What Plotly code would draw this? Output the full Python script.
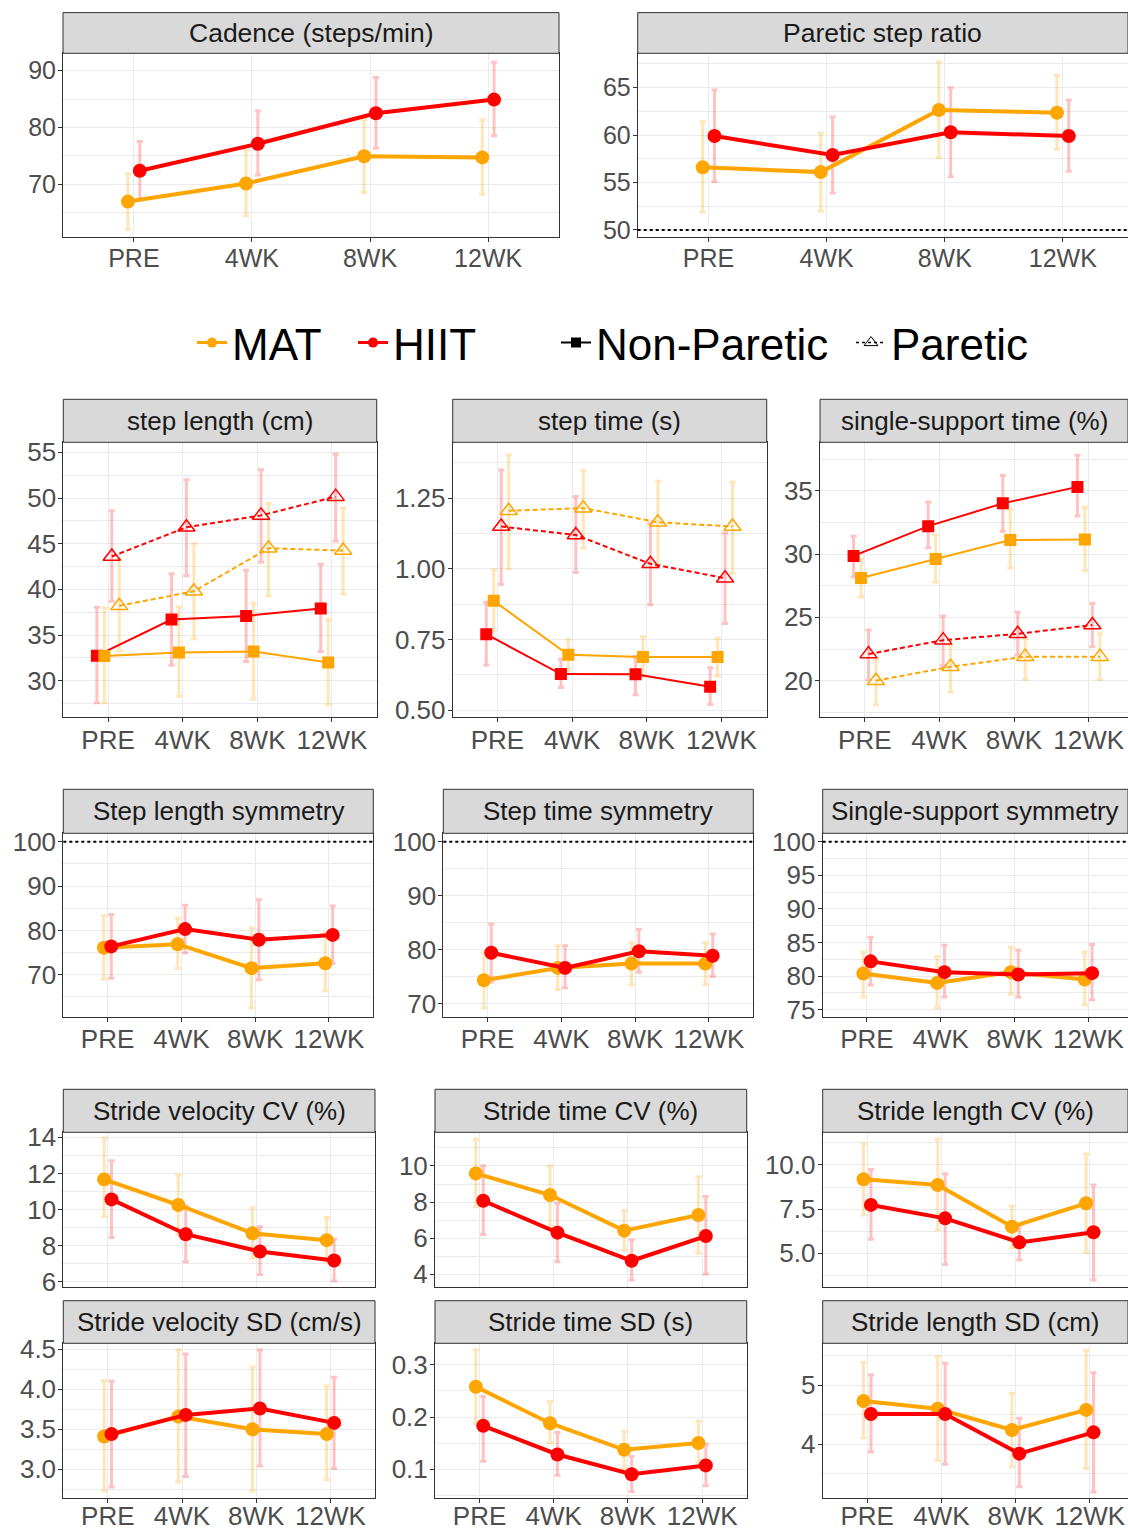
import plotly.graph_objects as go

# ---------------- data ----------------
TIMES = ["PRE", "4WK", "8WK", "12WK"]

CAD_MAT = [66.9, 70.1, 74.9, 74.7]
CAD_MAT_LO = [62.0, 64.4, 68.5, 68.2]
CAD_MAT_HI = [71.8, 76.0, 81.4, 81.3]
CAD_HIIT = [72.35, 77.1, 82.5, 84.9]
CAD_HIIT_LO = [67.2, 71.6, 76.3, 78.5]
CAD_HIIT_HI = [77.5, 82.9, 88.8, 91.5]

PSR_MAT = [56.6, 56.1, 62.65, 62.35]
PSR_MAT_LO = [51.9, 52.0, 57.6, 58.5]
PSR_MAT_HI = [61.4, 60.2, 67.7, 66.3]
PSR_HIIT = [59.9, 57.9, 60.3, 59.9]
PSR_HIIT_LO = [55.1, 53.9, 55.6, 56.2]
PSR_HIIT_HI = [64.75, 61.9, 65.0, 63.7]

SL_MAT_NP = [32.7, 33.1, 33.2, 32.0]
SL_MAT_NP_LO = [27.6, 28.3, 28.0, 27.4]
SL_MAT_NP_HI = [38.0, 38.1, 38.5, 36.7]
SL_HIIT_NP = [32.75, 36.7, 37.1, 37.9]
SL_HIIT_NP_LO = [27.6, 31.7, 32.1, 33.2]
SL_HIIT_NP_HI = [38.05, 41.7, 42.1, 42.75]
SL_MAT_P = [38.2, 39.8, 44.5, 44.25]
SL_MAT_P_LO = [33.3, 34.6, 39.3, 39.5]
SL_MAT_P_HI = [43.3, 45.0, 49.4, 48.9]
SL_HIIT_P = [43.6, 46.8, 48.1, 50.15]
SL_HIIT_P_LO = [38.7, 41.5, 43.0, 45.3]
SL_HIIT_P_HI = [48.6, 52.0, 53.1, 54.8]

ST_MAT_NP = [0.887, 0.696, 0.688, 0.688]
ST_MAT_NP_LO = [0.78, 0.64, 0.62, 0.62]
ST_MAT_NP_HI = [0.996, 0.749, 0.76, 0.755]
ST_HIIT_NP = [0.769, 0.628, 0.627, 0.583]
ST_HIIT_NP_LO = [0.66, 0.58, 0.555, 0.52]
ST_HIIT_NP_HI = [0.882, 0.68, 0.69, 0.65]
ST_MAT_P = [1.206, 1.215, 1.165, 1.15]
ST_MAT_P_LO = [1.0, 1.073, 1.014, 0.985]
ST_MAT_P_HI = [1.403, 1.348, 1.31, 1.307]
ST_HIIT_P = [1.15, 1.12, 1.018, 0.967]
ST_HIIT_P_LO = [0.946, 0.987, 0.873, 0.807]
ST_HIIT_P_HI = [1.35, 1.256, 1.162, 1.127]

SS_MAT_NP = [28.1, 29.6, 31.1, 31.15]
SS_MAT_NP_LO = [26.6, 27.8, 28.9, 28.7]
SS_MAT_NP_HI = [29.6, 31.5, 33.5, 33.7]
SS_HIIT_NP = [29.85, 32.2, 34.0, 35.3]
SS_HIIT_NP_LO = [28.2, 30.5, 31.8, 33.0]
SS_HIIT_NP_HI = [31.4, 34.1, 36.2, 37.8]
SS_MAT_P = [20.0, 21.1, 21.9, 21.9]
SS_MAT_P_LO = [18.1, 19.1, 20.1, 20.1]
SS_MAT_P_HI = [21.7, 22.8, 23.3, 23.7]
SS_HIIT_P = [22.1, 23.2, 23.7, 24.4]
SS_HIIT_P_LO = [20.05, 21.2, 22.0, 22.7]
SS_HIIT_P_HI = [24.0, 25.1, 25.4, 26.1]

SLS_MAT = [76.1, 76.9, 71.5, 72.6]
SLS_MAT_LO = [69.0, 71.4, 62.5, 66.4]
SLS_MAT_HI = [83.3, 82.8, 80.6, 79.4]
SLS_HIIT = [76.4, 80.3, 77.9, 79.0]
SLS_HIIT_LO = [69.2, 74.9, 68.9, 72.6]
SLS_HIIT_HI = [83.6, 85.7, 86.9, 85.5]

STS_MAT = [74.3, 76.6, 77.4, 77.4]
STS_MAT_LO = [69.1, 72.6, 73.5, 73.5]
STS_MAT_HI = [79.5, 80.7, 81.3, 81.3]
STS_HIIT = [79.4, 76.6, 79.7, 78.85]
STS_HIIT_LO = [74.0, 72.9, 75.8, 75.0]
STS_HIIT_HI = [84.7, 80.7, 83.7, 82.9]

SSS_MAT = [80.4, 79.0, 80.6, 79.5]
SSS_MAT_LO = [76.9, 75.3, 77.3, 75.7]
SSS_MAT_HI = [83.6, 82.9, 84.3, 83.6]
SSS_HIIT = [82.2, 80.6, 80.25, 80.45]
SSS_HIIT_LO = [78.7, 76.9, 76.9, 76.5]
SSS_HIIT_HI = [85.8, 84.6, 83.85, 84.7]

SVCV_MAT = [11.67, 10.25, 8.68, 8.3]
SVCV_MAT_LO = [9.6, 8.6, 7.3, 7.1]
SVCV_MAT_HI = [13.95, 11.9, 10.1, 9.55]
SVCV_HIIT = [10.56, 8.63, 7.67, 7.17]
SVCV_HIIT_LO = [8.45, 7.1, 6.4, 6.05]
SVCV_HIIT_HI = [12.7, 10.2, 9.05, 8.35]

SVSD_MAT = [3.41, 3.66, 3.5, 3.44]
SVSD_MAT_LO = [2.73, 2.84, 2.73, 2.87]
SVSD_MAT_HI = [4.11, 4.49, 4.28, 4.04]
SVSD_HIIT = [3.44, 3.68, 3.76, 3.58]
SVSD_HIIT_LO = [2.78, 2.91, 3.04, 3.01]
SVSD_HIIT_HI = [4.1, 4.44, 4.49, 4.15]

STCV_MAT = [9.59, 8.39, 6.41, 7.28]
STCV_MAT_LO = [7.74, 6.6, 5.33, 5.15]
STCV_MAT_HI = [11.48, 10.0, 7.52, 9.4]
STCV_HIIT = [8.07, 6.3, 4.74, 6.11]
STCV_HIIT_LO = [6.2, 4.69, 3.67, 4.0]
STCV_HIIT_HI = [10.0, 7.93, 5.89, 8.3]

STSD_MAT = [0.258, 0.188, 0.137, 0.15]
STSD_MAT_LO = [0.188, 0.15, 0.102, 0.112]
STSD_MAT_HI = [0.329, 0.23, 0.172, 0.192]
STSD_HIIT = [0.183, 0.128, 0.09, 0.107]
STSD_HIIT_LO = [0.115, 0.088, 0.057, 0.068]
STSD_HIIT_HI = [0.24, 0.17, 0.124, 0.147]

SLCV_MAT = [9.19, 8.87, 6.51, 7.83]
SLCV_MAT_LO = [7.17, 6.32, 5.3, 5.04]
SLCV_MAT_HI = [11.19, 11.45, 7.68, 10.62]
SLCV_HIIT = [7.74, 6.98, 5.62, 6.19]
SLCV_HIIT_LO = [5.79, 4.36, 4.62, 3.49]
SLCV_HIIT_HI = [9.75, 9.5, 6.6, 8.87]

SLSD_MAT = [4.73, 4.6, 4.24, 4.58]
SLSD_MAT_LO = [4.11, 3.73, 3.62, 3.59]
SLSD_MAT_HI = [5.38, 5.48, 4.86, 5.59]
SLSD_HIIT = [4.51, 4.51, 3.84, 4.2]
SLSD_HIIT_LO = [3.87, 3.66, 3.28, 3.19]
SLSD_HIIT_HI = [5.17, 5.37, 4.44, 5.21]

LEGEND_NAMES = ["MAT", "HIIT", "Non-Paretic", "Paretic"]

# ---------------- style / layout ----------------
W, H = 1128, 1531
FONT = "Liberation Sans"
ORANGE = "#FFA500"
RED = "#FF0000"
ERRC = {ORANGE: "rgba(255,165,0,0.28)", RED: "rgba(255,0,0,0.24)"}
GRID = "#EBEBEB"
BORDER = "#333333"

ROWS = {
    1: dict(strip=12.6, top=53.3, bottom=237.3, xstand=-5),
    2: dict(strip=399.3, top=442.3, bottom=717.3, xstand=-5),
    3: dict(strip=789.3, top=833.3, bottom=1016.5, xstand=-5),
    4: dict(strip=1089.3, top=1132.3, bottom=1286.7, xstand=-5),
    5: dict(strip=1300.7, top=1343.3, bottom=1498.3, xstand=-10),
}

G = "g"; NP = "np"; P = "p"

panels = [
    dict(title="Cadence (steps/min)", row=1, x0=63, x1=559, unit=118.1, yr=(60.6, 93.07),
         tick0=70, dtick=10, fmt="", ref=None, fs=25, sfs=26.5,
         series=[(CAD_MAT, CAD_MAT_LO, CAD_MAT_HI, ORANGE, G, -0.05),
                 (CAD_HIIT, CAD_HIIT_LO, CAD_HIIT_HI, RED, G, 0.05)]),
    dict(title="Paretic step ratio", row=1, x0=637.7, x1=W, unit=118.1, yr=(49.23, 68.62),
         tick0=50, dtick=5, fmt="", ref=50, fs=25, sfs=26.5,
         series=[(PSR_MAT, PSR_MAT_LO, PSR_MAT_HI, ORANGE, G, -0.05),
                 (PSR_HIIT, PSR_HIIT_LO, PSR_HIIT_HI, RED, G, 0.05)]),
    dict(title="step length (cm)", row=2, x0=63.3, x1=376.7, unit=74.62, yr=(26.0, 56.1),
         tick0=30, dtick=5, fmt="", ref=None, fs=26, sfs=26,
         series=[(SL_HIIT_NP, SL_HIIT_NP_LO, SL_HIIT_NP_HI, RED, NP, -0.15),
                 (SL_MAT_NP, SL_MAT_NP_LO, SL_MAT_NP_HI, ORANGE, NP, -0.05),
                 (SL_HIIT_P, SL_HIIT_P_LO, SL_HIIT_P_HI, RED, P, 0.05),
                 (SL_MAT_P, SL_MAT_P_LO, SL_MAT_P_HI, ORANGE, P, 0.15)]),
    dict(title="step time (s)", row=2, x0=452.7, x1=766.7, unit=74.62, yr=(0.475, 1.448),
         tick0=0.5, dtick=0.25, fmt=".2f", ref=None, fs=26, sfs=26,
         series=[(ST_HIIT_NP, ST_HIIT_NP_LO, ST_HIIT_NP_HI, RED, NP, -0.15),
                 (ST_MAT_NP, ST_MAT_NP_LO, ST_MAT_NP_HI, ORANGE, NP, -0.05),
                 (ST_HIIT_P, ST_HIIT_P_LO, ST_HIIT_P_HI, RED, P, 0.05),
                 (ST_MAT_P, ST_MAT_P_LO, ST_MAT_P_HI, ORANGE, P, 0.15)]),
    dict(title="single-support time (%)", row=2, x0=820, x1=W, unit=74.62, yr=(17.11, 38.82),
         tick0=20, dtick=5, fmt="", ref=None, fs=26, sfs=26,
         series=[(SS_HIIT_NP, SS_HIIT_NP_LO, SS_HIIT_NP_HI, RED, NP, -0.15),
                 (SS_MAT_NP, SS_MAT_NP_LO, SS_MAT_NP_HI, ORANGE, NP, -0.05),
                 (SS_HIIT_P, SS_HIIT_P_LO, SS_HIIT_P_HI, RED, P, 0.05),
                 (SS_MAT_P, SS_MAT_P_LO, SS_MAT_P_HI, ORANGE, P, 0.15)]),
    dict(title="Step length symmetry", row=3, x0=63.3, x1=373.3, unit=73.8, yr=(60.6, 101.9),
         tick0=70, dtick=10, fmt="", ref=100, fs=26, sfs=26,
         series=[(SLS_MAT, SLS_MAT_LO, SLS_MAT_HI, ORANGE, G, -0.05),
                 (SLS_HIIT, SLS_HIIT_LO, SLS_HIIT_HI, RED, G, 0.05)]),
    dict(title="Step time symmetry", row=3, x0=443.3, x1=753.3, unit=73.8, yr=(67.59, 101.56),
         tick0=70, dtick=10, fmt="", ref=100, fs=26, sfs=26,
         series=[(STS_MAT, STS_MAT_LO, STS_MAT_HI, ORANGE, G, -0.05),
                 (STS_HIIT, STS_HIIT_LO, STS_HIIT_HI, RED, G, 0.05)]),
    dict(title="Single-support symmetry", row=3, x0=822.7, x1=W, unit=73.8, yr=(74.0, 101.25),
         tick0=75, dtick=5, fmt="", ref=100, fs=26, sfs=26,
         series=[(SSS_MAT, SSS_MAT_LO, SSS_MAT_HI, ORANGE, G, -0.05),
                 (SSS_HIIT, SSS_HIIT_LO, SSS_HIIT_HI, RED, G, 0.05)]),
    dict(title="Stride velocity CV (%)", row=4, x0=63.3, x1=375, unit=74.2, yr=(5.72, 14.28),
         tick0=6, dtick=2, fmt="", ref=None, fs=26, sfs=26, notick=True,
         series=[(SVCV_MAT, SVCV_MAT_LO, SVCV_MAT_HI, ORANGE, G, -0.05),
                 (SVCV_HIIT, SVCV_HIIT_LO, SVCV_HIIT_HI, RED, G, 0.05)]),
    dict(title="Stride time CV (%)", row=4, x0=435, x1=746.7, unit=74.2, yr=(3.30, 11.87),
         tick0=4, dtick=2, fmt="", ref=None, fs=26, sfs=26, notick=True,
         series=[(STCV_MAT, STCV_MAT_LO, STCV_MAT_HI, ORANGE, G, -0.05),
                 (STCV_HIIT, STCV_HIIT_LO, STCV_HIIT_HI, RED, G, 0.05)]),
    dict(title="Stride length CV (%)", row=4, x0=822.7, x1=W, unit=74.2, yr=(3.11, 11.85),
         tick0=5, dtick=2.5, fmt=".1f", ref=None, fs=26, sfs=26, notick=True,
         series=[(SLCV_MAT, SLCV_MAT_LO, SLCV_MAT_HI, ORANGE, G, -0.05),
                 (SLCV_HIIT, SLCV_HIIT_LO, SLCV_HIIT_HI, RED, G, 0.05)]),
    dict(title="Stride velocity SD (cm/s)", row=5, x0=63.3, x1=375, unit=74.2, yr=(2.6375, 4.575),
         tick0=3, dtick=0.5, fmt=".1f", ref=None, fs=26, sfs=26,
         series=[(SVSD_MAT, SVSD_MAT_LO, SVSD_MAT_HI, ORANGE, G, -0.05),
                 (SVSD_HIIT, SVSD_HIIT_LO, SVSD_HIIT_HI, RED, G, 0.05)]),
    dict(title="Stride time SD (s)", row=5, x0=435, x1=746.7, unit=74.2, yr=(0.0438, 0.3416),
         tick0=0.1, dtick=0.1, fmt=".1f", ref=None, fs=26, sfs=26,
         series=[(STSD_MAT, STSD_MAT_LO, STSD_MAT_HI, ORANGE, G, -0.05),
                 (STSD_HIIT, STSD_HIIT_LO, STSD_HIIT_HI, RED, G, 0.05)]),
    dict(title="Stride length SD (cm)", row=5, x0=822.7, x1=W, unit=74.2, yr=(3.085, 5.706),
         tick0=4, dtick=1, fmt="", ref=None, fs=26, sfs=26,
         series=[(SLSD_MAT, SLSD_MAT_LO, SLSD_MAT_HI, ORANGE, G, -0.05),
                 (SLSD_HIIT, SLSD_HIIT_LO, SLSD_HIIT_HI, RED, G, 0.05)]),
]

STYLE = {
    G: dict(lw=4, dash="solid", sym="circle", ms=14, mlw=0),
    NP: dict(lw=2, dash="solid", sym="square", ms=12, mlw=0),
    P: dict(lw=2, dash="5px,3px", sym="triangle-up-open", ms=15, mlw=1.5),
}

fig = go.Figure()
layout = dict(
    width=W, height=H, margin=dict(l=0, r=0, t=0, b=0, autoexpand=False),
    paper_bgcolor="white", plot_bgcolor="white", template="none",
    font=dict(family=FONT, color="#4D4D4D"),
)
shapes, annotations = [], []
err_traces, line_traces = [], []

for i, p in enumerate(panels, start=1):
    r = ROWS[p["row"]]
    sfx = "" if i == 1 else str(i)
    xn, yn = "x" + sfx, "y" + sfx
    xr_right = -0.6 + (p["x1"] - p["x0"]) / p["unit"]
    notick = p.get("notick", False)
    layout["xaxis" + sfx] = dict(
        domain=[p["x0"] / W, p["x1"] / W], range=[-0.6, xr_right], anchor=yn,
        automargin=False,
        tickmode="array", tickvals=list(range(len(TIMES))), ticktext=TIMES,
        showticklabels=not notick, ticklabelstandoff=r["xstand"],
        showgrid=True, gridcolor=GRID, gridwidth=1.2, zeroline=False,
        showline=True, linecolor=BORDER, linewidth=1, mirror=True,
        ticks="" if notick else "outside", ticklen=4, tickcolor=BORDER, tickwidth=1,
        tickfont=dict(size=p["fs"], color="#4D4D4D", family=FONT), fixedrange=True)
    layout["yaxis" + sfx] = dict(
        domain=[1 - r["bottom"] / H, 1 - r["top"] / H], range=list(p["yr"]), anchor=xn,
        automargin=False, ticklabelstandoff=-3,
        tickmode="linear", tick0=p["tick0"], dtick=p["dtick"], tickformat=p["fmt"],
        showgrid=True, gridcolor=GRID, gridwidth=1.2, zeroline=False,
        minor=dict(tick0=p["tick0"], dtick=p["dtick"] / 2, showgrid=True,
                   gridcolor=GRID, gridwidth=0.6),
        showline=True, linecolor=BORDER, linewidth=1, mirror=True,
        ticks="outside", ticklen=4, tickcolor=BORDER, tickwidth=1,
        tickfont=dict(size=p["fs"], color="#4D4D4D", family=FONT), fixedrange=True)
    # strip header
    shapes.append(dict(type="rect", xref="paper", yref="paper",
                       x0=p["x0"] / W, x1=p["x1"] / W,
                       y0=1 - r["top"] / H, y1=1 - r["strip"] / H,
                       fillcolor="#D9D9D9", line=dict(color=BORDER, width=1), layer="above"))
    annotations.append(dict(xref="paper", yref="paper",
                            x=(p["x0"] + p["x1"]) / 2 / W,
                            y=1 - (r["strip"] + r["top"]) / 2 / H,
                            text=p["title"], showarrow=False,
                            xanchor="center", yanchor="middle",
                            font=dict(size=p["sfs"], color="#1A1A1A", family=FONT)))
    if p["ref"] is not None:
        shapes.append(dict(type="line", xref=xn + " domain", x0=0, x1=1,
                           yref=yn, y0=p["ref"], y1=p["ref"],
                           line=dict(color="black", width=2, dash="dot")))
    for mean, lo, hi, color, kind, off in p["series"]:
        xs = [k + off for k in range(len(TIMES))]
        st = STYLE[kind]
        err_traces.append(go.Scatter(
            x=xs, y=mean, xaxis=xn, yaxis=yn, mode="markers",
            marker=dict(size=1, opacity=0), showlegend=False, hoverinfo="skip",
            error_y=dict(type="data", symmetric=False,
                         array=[h - m for h, m in zip(hi, mean)],
                         arrayminus=[m - l for m, l in zip(mean, lo)],
                         color=ERRC[color], thickness=3, width=3)))
        line_traces.append(go.Scatter(
            x=xs, y=mean, xaxis=xn, yaxis=yn, mode="lines+markers",
            line=dict(color=color, width=st["lw"], dash=st["dash"]),
            marker=dict(symbol=st["sym"], size=st["ms"], color=color,
                        line=dict(width=st["mlw"], color=color)),
            showlegend=False))

for t in err_traces + line_traces:
    fig.add_trace(t)

# legend entries (one legend box per entry for exact placement)
LEG_Y = 1 - 343 / H
LEG_STYLE = [
    dict(line=dict(color=ORANGE, width=3), marker=dict(size=10, color=ORANGE)),
    dict(line=dict(color=RED, width=3), marker=dict(size=10, color=RED)),
    dict(line=dict(color="black", width=2), marker=dict(size=10, symbol="square", color="black")),
    dict(line=dict(color="black", width=1.5, dash="dot"),
         marker=dict(size=12, symbol="triangle-up-open", color="black", line=dict(width=1))),
]
LEG_X = [192, 353, 556, 851]
for k, (name, sty) in enumerate(zip(LEGEND_NAMES, LEG_STYLE)):
    lname = "legend" if k == 0 else f"legend{k + 1}"
    fig.add_trace(go.Scatter(x=[None], y=[None], mode="lines+markers", name=name,
                             legend=lname, **sty))
    layout[lname] = dict(orientation="h", yanchor="middle", y=LEG_Y, xanchor="left",
                         x=LEG_X[k] / W,
                         font=dict(size=44, color="black", family=FONT),
                         bgcolor="rgba(0,0,0,0)", borderwidth=0, itemclick=False)

layout["shapes"] = shapes
layout["annotations"] = annotations
layout["showlegend"] = True
fig.update_layout(**layout)

fig.write_html("out.html", config={"displayModeBar": False},
               post_script="document.body.style.margin='0px';")
